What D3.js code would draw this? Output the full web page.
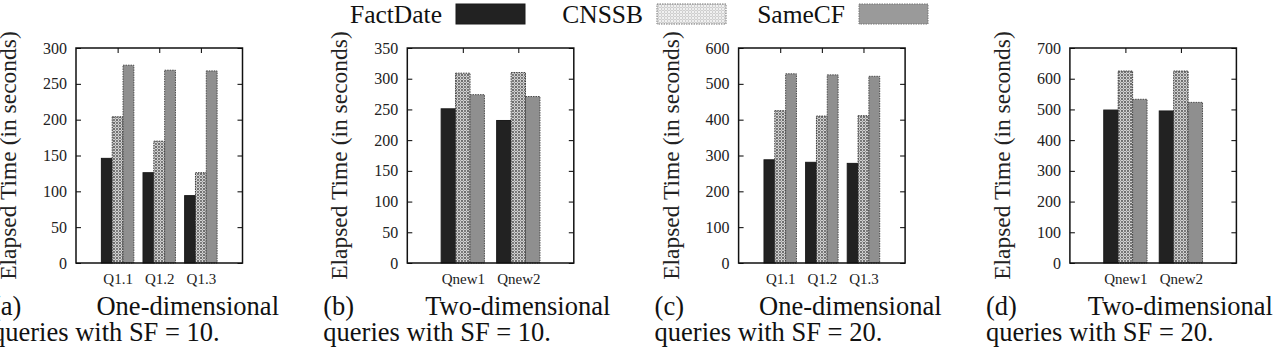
<!DOCTYPE html>
<html>
<head>
<meta charset="utf-8">
<style>
  body { margin: 0; background: #fff; }
  svg { font-family: "Liberation Serif", "Times New Roman", serif; }
</style>
</head>
<body>
<div class="graph"></div>
<script src="https://cdn.jsdelivr.net/npm/d3@7"></script>
<script>
var series = ['FactDate', 'CNSSB', 'SameCF']

var oneDimQueries = ['Q1.1', 'Q1.2', 'Q1.3']
var twoDimQueries = ['Qnew1', 'Qnew2']

// (a) one-dimensional queries, SF = 10
var a_FactDate = [146, 126, 94]
var a_CNSSB = [204, 170, 126]
var a_SameCF = [276, 269, 268]
var a_ticks = [0, 50, 100, 150, 200, 250, 300]

// (b) two-dimensional queries, SF = 10
var b_FactDate = [251, 232]
var b_CNSSB = [309, 310]
var b_SameCF = [274, 271]
var b_ticks = [0, 50, 100, 150, 200, 250, 300, 350]

// (c) one-dimensional queries, SF = 20
var c_FactDate = [288, 281, 278]
var c_CNSSB = [425, 410, 411]
var c_SameCF = [528, 525, 521]
var c_ticks = [0, 100, 200, 300, 400, 500, 600]

// (d) two-dimensional queries, SF = 20
var d_FactDate = [498, 495]
var d_CNSSB = [625, 625]
var d_SameCF = [533, 523]
var d_ticks = [0, 100, 200, 300, 400, 500, 600, 700]

var captionTags = ['(a)', '(b)', '(c)', '(d)']
var captionKinds = ['One-dimensional', 'Two-dimensional', 'One-dimensional', 'Two-dimensional']
var captionRest = ['queries with SF = 10.', 'queries with SF = 10.', 'queries with SF = 20.', 'queries with SF = 20.']

var yTitle = 'Elapsed Time (in seconds)'

var panels = [
    { cats: oneDimQueries, values: [a_FactDate, a_CNSSB, a_SameCF], ticks: a_ticks },
    { cats: twoDimQueries, values: [b_FactDate, b_CNSSB, b_SameCF], ticks: b_ticks },
    { cats: oneDimQueries, values: [c_FactDate, c_CNSSB, c_SameCF], ticks: c_ticks },
    { cats: twoDimQueries, values: [d_FactDate, d_CNSSB, d_SameCF], ticks: d_ticks }
]

var width = 1276,
    height = 354

var plotW = 166.5,
    plotTop = 48,
    plotBottom = 263,
    panelStep = 331.3,
    firstLeft = 76,
    barW = 0.26

var svg = d3.select('.graph').append('svg')
    .attr('width', width)
    .attr('height', height)

var defs = svg.append('defs')

// circle hatch like gnuplot's pattern fill, for CNSSB
function hatch(id, bg, ring) {
    var pat = defs.append('pattern')
        .attr('id', id)
        .attr('patternUnits', 'userSpaceOnUse')
        .attr('width', 6).attr('height', 6)
    pat.append('rect').attr('width', 6).attr('height', 6).attr('fill', bg)
    pat.selectAll('circle').data([[3, 3], [0, 0], [6, 0], [0, 6], [6, 6]]).enter()
        .append('circle')
        .attr('cx', function (d) { return d[0] })
        .attr('cy', function (d) { return d[1] })
        .attr('r', 1.6)
        .attr('fill', 'none')
        .attr('stroke', ring)
        .attr('stroke-width', 0.9)
}
hatch('cnssb', '#6f6f6f', '#e2e2e2')
hatch('cnssbLegend', '#f2f2f2', '#c8c8c8')

var fills = ['#222', 'url(#cnssb)', '#8f8f8f']
var strokes = ['#1a1a1a', '#3a3a3a', '#4a4a4a']
var dashes = [null, '1.5,1', '1.5,1']

panels.forEach(function (p, k) {
    var left = firstLeft + k * panelStep

    var x = d3.scaleLinear()
        .domain([-1, p.cats.length])
        .range([left, left + plotW])

    var y = d3.scaleLinear()
        .domain([0, p.ticks[p.ticks.length - 1]])
        .range([plotBottom, plotTop])

    var g = svg.append('g')

    // bars
    series.forEach(function (s, j) {
        g.selectAll('.bar' + j)
            .data(p.values[j])
            .enter().append('rect')
            .attr('x', function (d, i) { return x(i - 1.5 * barW + j * barW) })
            .attr('width', x(barW) - x(0))
            .attr('y', function (d) { return y(d) })
            .attr('height', function (d) { return y(0) - y(d) })
            .attr('fill', fills[j])
            .attr('stroke', strokes[j])
            .attr('stroke-width', 1)
            .attr('stroke-dasharray', dashes[j])
    })

    // frame + ticks (gnuplot style, inward, mirrored)
    g.append('g')
        .attr('transform', 'translate(' + left + ',0)')
        .call(d3.axisRight(y).tickValues(p.ticks).tickSize(5).tickFormat(''))
        .call(function (a) { a.select('.domain').remove() })
    g.append('g')
        .attr('transform', 'translate(' + (left + plotW) + ',0)')
        .call(d3.axisLeft(y).tickValues(p.ticks).tickSize(5).tickFormat(''))
        .call(function (a) { a.select('.domain').remove() })
    g.append('g')
        .attr('transform', 'translate(0,' + plotTop + ')')
        .call(d3.axisBottom(x).tickValues(d3.range(p.cats.length)).tickSize(5).tickFormat(''))
        .call(function (a) { a.select('.domain').remove() })

    g.append('rect')
        .attr('x', left).attr('y', plotTop)
        .attr('width', plotW).attr('height', plotBottom - plotTop)
        .attr('fill', 'none')
        .attr('stroke', '#111')
        .attr('stroke-width', 1.5)

    // y labels
    g.append('g')
        .attr('transform', 'translate(' + (left - 9) + ',0)')
        .call(d3.axisLeft(y).tickValues(p.ticks).tickSize(0).tickPadding(0))
        .call(function (a) {
            a.select('.domain').remove()
            a.selectAll('text').attr('font-size', 16).attr('fill', '#222')
                .attr('font-family', '"Liberation Serif", serif')
        })

    // x labels
    g.append('g')
        .attr('transform', 'translate(0,' + (plotBottom + 10) + ')')
        .call(d3.axisBottom(x).tickValues(d3.range(p.cats.length))
            .tickFormat(function (i) { return p.cats[i] }).tickSize(0).tickPadding(0))
        .call(function (a) {
            a.select('.domain').remove()
            a.selectAll('text').attr('font-size', 15).attr('fill', '#222')
                .attr('font-family', '"Liberation Serif", serif')
        })

    // y title
    svg.append('text')
        .attr('transform', 'translate(' + (left - 68) + ',' + ((plotTop + plotBottom) / 2) + ') rotate(-90)')
        .attr('text-anchor', 'middle')
        .attr('dominant-baseline', 'central')
        .attr('font-size', 23.5)
        .attr('fill', '#222')
        .text(yTitle)

    // caption
    var capL = left - 84,
        capR = capL + 287
    svg.append('text').attr('x', capL).attr('y', 315).attr('font-size', 26.5).attr('fill', '#111')
        .text(captionTags[k])
    svg.append('text').attr('x', capR).attr('y', 315).attr('font-size', 26.5).attr('fill', '#111')
        .attr('text-anchor', 'end').text(captionKinds[k])
    svg.append('text').attr('x', capL).attr('y', 341).attr('font-size', 26.5).attr('fill', '#111')
        .text(captionRest[k])
})

// legend
var legendSwatchX = [456, 657, 859]
var legendFills = ['#222', 'url(#cnssbLegend)', '#9a9a9a']
var legend = svg.append('g')
series.forEach(function (s, j) {
    legend.append('text')
        .attr('x', legendSwatchX[j] - 14)
        .attr('y', 23)
        .attr('text-anchor', 'end')
        .attr('font-size', 25.5)
        .attr('fill', '#111')
        .text(s)
    legend.append('rect')
        .attr('x', legendSwatchX[j])
        .attr('y', 4)
        .attr('width', 69)
        .attr('height', 20)
        .attr('fill', legendFills[j])
        .attr('stroke', j == 0 ? '#1a1a1a' : '#777')
        .attr('stroke-width', 1)
        .attr('stroke-dasharray', dashes[j])
})
</script>
</body>
</html>
